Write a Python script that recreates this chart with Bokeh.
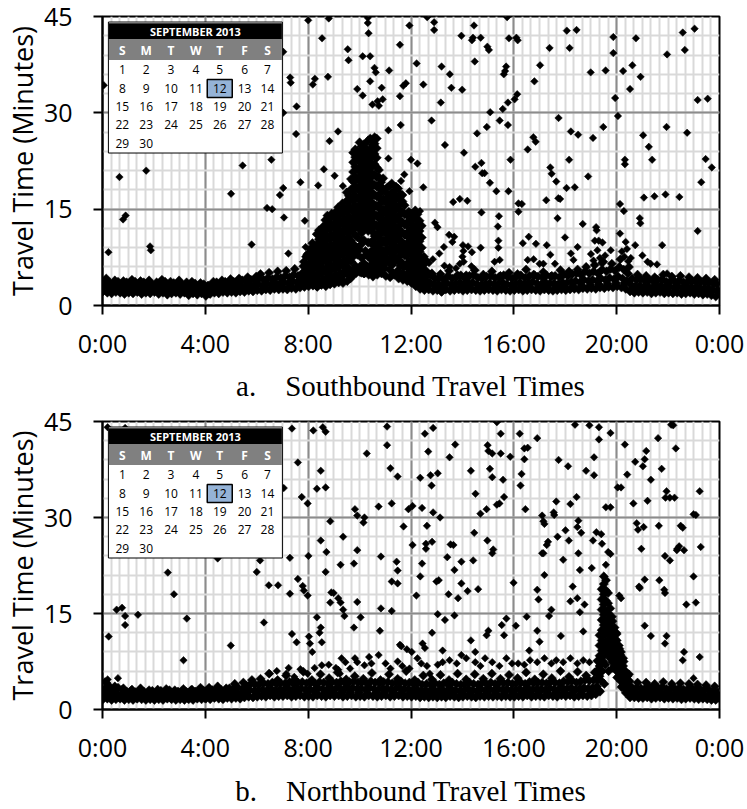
import math
from bokeh.plotting import figure
from bokeh.layouts import column
from bokeh.models import Range1d, FixedTicker
from bokeh.core.properties import value
from bokeh.embed import file_html
from bokeh.resources import INLINE

# ---------------- data ----------------
X_TICKS = [0, 4, 8, 12, 16, 20, 24]
X_LABELS = ["0:00", "4:00", "8:00", "12:00", "16:00", "20:00", "0:00"]
Y_TICKS = [0, 15, 30, 45]
Y_TITLE = "Travel Time (Minutes)"
CAPTIONS = ["a.\u00a0\u00a0\u00a0\u00a0Southbound Travel Times",
            "b.\u00a0\u00a0\u00a0\u00a0Northbound Travel Times"]

CAL_MONTH = "SEPTEMBER 2013"
CAL_WEEKDAYS = ["S", "M", "T", "W", "T", "F", "S"]
CAL_FIRST_WEEKDAY = 0      # 1 Sept 2013 = Sunday
CAL_NDAYS = 30
CAL_SELECTED = 12

# Southbound: 10-minute bins, four readings per bin (low / mid / high / upper fuzz)
sb_lo = [2.2, 2.0, 1.9, 2.1, 2.0, 1.8,  2.0, 1.9, 2.1, 1.8, 2.0, 1.9,
         2.1, 1.8, 2.0, 1.7, 1.9, 2.0,  1.8, 2.0, 1.6, 1.9, 1.7, 1.9,
         1.5, 1.8, 2.0, 1.9, 2.1, 2.0,  2.1, 2.0, 2.2, 2.1, 2.3, 2.2,
         2.4, 2.3, 2.5, 2.4, 2.6, 2.5,  2.6, 2.5, 2.7, 2.6, 2.8, 2.9,
         3.0, 3.1, 2.9, 3.2, 3.0, 3.3,  3.4, 3.6, 3.5, 3.8, 4.5, 5.0,
         5.2, 5.0, 4.8, 4.5, 4.8, 5.0,  4.6, 4.4, 4.8, 4.2, 4.0, 3.8,
         3.5, 3.0, 2.6, 2.4, 2.5, 2.3,  2.4, 2.2, 2.5, 2.3, 2.4, 2.5,
         2.3, 2.4, 2.5, 2.4, 2.3, 2.4,  2.5, 2.4, 2.3, 2.5, 2.4, 2.3,
         2.4, 2.5, 2.3, 2.4, 2.5, 2.4,  2.3, 2.5, 2.4, 2.3, 2.4, 2.5,
         2.4, 2.5, 2.6, 2.5, 2.7, 2.6,  2.7, 2.6, 2.8, 2.7, 2.9, 2.8,
         3.0, 2.8, 2.6, 2.2, 2.0, 2.1,  2.0, 2.1, 1.9, 2.0, 2.1, 1.9,
         2.0, 1.9, 2.0, 1.8, 1.9, 2.0,  1.8, 1.9, 1.7, 1.8, 1.6, 1.4]
sb_mid = [3.0, 2.8, 2.7, 2.9, 2.6, 2.8,  2.7, 2.9, 2.6, 2.8, 2.7, 2.5,
          2.8, 2.6, 2.9, 2.5, 2.7, 2.6,  2.5, 2.8, 2.4, 2.7, 2.3, 2.6,
          2.4, 2.6, 2.8, 2.7, 2.9, 2.8,  2.9, 3.0, 3.1, 2.9, 3.2, 3.0,
          3.3, 3.1, 3.4, 3.3, 3.5, 3.4,  3.6, 3.5, 3.8, 3.6, 4.0, 4.2,
          4.5, 4.8, 5.0, 5.3, 5.0, 5.6,  6.0, 6.5, 6.2, 7.0, 8.0, 9.0,
          9.5, 8.5, 7.5, 7.0, 7.5, 7.8,  7.0, 6.5, 7.2, 6.8, 6.0, 5.8,
          5.5, 4.5, 3.8, 3.4, 3.6, 3.2,  3.4, 3.1, 3.5, 3.2, 3.4, 3.6,
          3.2, 3.5, 3.6, 3.3, 3.2, 3.4,  3.5, 3.3, 3.4, 3.6, 3.3, 3.2,
          3.4, 3.6, 3.3, 3.5, 3.7, 3.4,  3.3, 3.6, 3.4, 3.5, 3.3, 3.6,
          3.5, 3.7, 3.8, 3.6, 4.0, 3.8,  4.0, 3.8, 4.2, 4.0, 4.3, 4.1,
          4.5, 4.2, 3.8, 3.2, 3.0, 3.1,  2.9, 3.0, 2.8, 3.0, 3.1, 2.8,
          2.9, 2.8, 3.0, 2.7, 2.8, 2.9,  2.7, 2.8, 2.6, 2.7, 2.5, 2.3]
sb_hi = [3.8, 3.6, 3.4, 3.7, 3.3, 3.6,  3.5, 3.7, 3.3, 3.6, 3.4, 3.2,
         3.6, 3.3, 3.7, 3.2, 3.5, 3.3,  3.2, 3.6, 3.1, 3.4, 3.0, 3.3,
         3.1, 3.3, 3.6, 3.5, 3.7, 3.5,  3.7, 3.8, 3.9, 3.7, 4.0, 3.8,
         4.2, 4.0, 4.3, 4.1, 4.4, 4.3,  4.6, 4.4, 4.8, 4.6, 5.0, 5.3,
         6.0, 6.5, 7.0, 7.5, 7.0, 8.0,  8.5, 9.0, 9.5, 10.0, 12.0, 13.0,
         14.0, 13.0, 12.0, 11.0, 12.0, 12.0,  11.0, 10.0, 11.0, 10.0, 9.0, 8.5,
         8.0, 6.5, 5.0, 4.5, 4.8, 4.2,  4.4, 4.0, 4.6, 4.2, 4.5, 4.7,
         4.2, 4.6, 4.8, 4.3, 4.2, 4.5,  4.6, 4.3, 4.5, 4.7, 4.4, 4.2,
         4.5, 4.7, 4.3, 4.6, 4.8, 4.5,  4.4, 4.7, 4.5, 4.6, 4.4, 4.8,
         4.6, 4.9, 5.0, 4.8, 5.3, 5.0,  5.3, 5.0, 5.6, 5.3, 5.7, 5.4,
         6.0, 5.6, 5.0, 4.2, 4.0, 4.1,  3.8, 4.0, 3.7, 4.0, 4.1, 3.7,
         3.8, 3.7, 3.9, 3.6, 3.7, 3.8,  3.6, 3.7, 3.5, 3.6, 3.4, 3.2]
sb_top = [4.2, 3.2, 3.9, 2.5, 3.8, 2.4,  4.0, 2.3, 3.8, 2.2, 3.9, 2.5,
          3.0, 4.0, 2.4, 3.7, 2.2, 3.9,  2.9, 2.1, 3.7, 2.0, 3.5, 2.2,
          1.9, 3.7, 2.3, 3.9, 2.5, 4.1,  2.6, 4.2, 2.5, 4.4, 2.7, 4.5,
          4.9, 2.8, 5.1, 3.0, 5.3, 3.0,  5.4, 3.2, 5.7, 3.1, 6.1, 3.4,
          8.5, 3.4, 9.5, 3.6, 10.5, 3.7,  11.5, 4.0, 12.5, 4.2, 14.5, 5.5,
          16.0, 6.0, 15.0, 5.5, 14.0, 5.8,  13.0, 5.0, 12.0, 4.8, 11.0, 4.5,
          9.0, 4.0, 5.5, 3.0, 5.0, 2.8,  4.9, 2.6, 5.4, 2.8, 4.7, 2.9,
          4.7, 2.8, 5.5, 2.7, 4.8, 2.9,  5.3, 2.8, 4.6, 3.0, 5.1, 2.7,
          4.9, 2.9, 5.6, 2.8, 4.7, 2.9,  5.2, 2.8, 4.6, 3.0, 5.5, 2.9,
          5.3, 3.0, 5.6, 3.1, 6.0, 3.2,  6.3, 3.3, 6.8, 3.4, 6.5, 3.5,
          7.2, 3.5, 6.0, 2.6, 4.8, 2.5,  4.6, 2.4, 4.4, 2.5, 4.8, 2.3,
          4.5, 2.3, 4.6, 2.2, 4.4, 2.4,  4.3, 2.2, 4.2, 2.1, 4.0, 1.9]

# Southbound morning peak: 5-minute columns starting 7:50
sb_cloud_start = 7 + 50 / 60
sb_cloud = [
    [3.5, 5.2, 6.8], [4.2, 6.1, 7.6],
    [3.2, 4.9, 6.4, 8.1], [3.8, 5.6, 7.3, 8.8], [3.4, 5.0, 6.7, 8.3, 9.7], [4.3, 5.9, 7.5, 9.1],
    [3.0, 4.6, 6.3, 7.9, 9.5, 11.1], [3.9, 5.5, 7.1, 8.7, 10.3, 11.7],
    [3.3, 5.0, 6.6, 8.2, 9.8, 11.4], [4.1, 5.8, 7.4, 9.0, 10.6, 12.3],
    [3.6, 5.3, 6.9, 8.5, 10.1, 11.7, 13.3], [4.4, 6.0, 7.7, 9.3, 10.9, 12.5, 14.0],
    [3.8, 5.4, 7.1, 8.7, 10.3, 11.9, 13.5], [4.5, 6.2, 7.8, 9.4, 11.0, 12.6, 14.3],
    [4.0, 5.7, 7.3, 8.9, 10.5, 12.1, 13.7], [4.8, 6.5, 8.1, 9.7, 11.3, 12.9, 14.6],
    [4.2, 5.9, 7.5, 9.1, 10.7, 12.3, 13.9, 15.3], [5.0, 6.7, 8.3, 9.9, 11.5, 13.1, 14.7],
    [4.6, 6.3, 7.9, 9.5, 11.1, 12.7, 14.3, 15.9], [5.4, 7.1, 8.7, 10.3, 11.9, 13.5, 15.1],
    [5.0, 6.7, 8.3, 9.9, 11.5, 13.1, 14.7, 16.3, 17.6], [5.8, 7.5, 9.1, 10.7, 12.3, 13.9, 15.5, 17.1],
    [5.2, 6.9, 8.5, 10.1, 11.7, 13.3, 14.9, 16.5, 18.1, 19.7],
    [5.5, 7.6, 9.6, 11.8, 13.3, 14.8, 16.3, 17.8, 19.3, 20.8, 22.3, 23.8],
    [6.2, 8.5, 11.0, 12.6, 14.1, 15.6, 17.1, 18.6, 20.1, 21.6, 23.1, 24.3],
    [5.3, 7.9, 10.6, 12.2, 13.7, 15.2, 16.7, 18.2, 19.7, 21.2, 22.7, 24.1],
    [6.0, 8.7, 11.9, 13.4, 14.9, 16.4, 17.9, 19.4, 20.9, 22.4, 23.9, 25.4],
    [5.1, 7.4, 10.1, 11.3, 12.8, 14.3, 15.8, 17.3, 18.8, 20.3, 21.8, 23.3, 24.8],
    [5.0, 6.6, 10.2, 11.9, 13.4, 14.9, 16.4, 17.9, 19.4, 20.9, 22.4, 23.9, 25.1],
    [5.8, 7.9, 12.5, 14.0, 15.5, 17.0, 18.5, 20.0, 21.5, 23.0, 24.5],
    [5.3, 7.6, 9.8, 11.6, 13.1, 14.6, 16.1, 17.6, 19.1, 20.6, 22.1, 23.6, 25.7],
    [6.2, 8.3, 9.8, 12.3, 13.8, 15.3, 16.8, 18.3, 19.8, 21.3, 22.8, 24.3, 26.0],
    [5.5, 7.0, 8.5, 10.0, 11.5, 13.0, 14.5, 16.0, 17.5, 19.0, 20.5, 22.0, 23.5, 25.0],
    [6.0, 7.6, 9.2, 10.8, 12.4, 14.0, 15.6, 17.2, 18.8, 20.4, 22.0, 23.6, 25.2, 26.2],
    [5.0, 6.5, 8.0, 9.5, 11.0, 12.5, 14.0, 15.5, 17.0, 18.5, 20.0, 21.5, 23.0, 24.5, 26.0],
    [5.6, 7.2, 8.8, 10.4, 12.0, 13.6, 15.2, 16.8, 18.4, 20.0, 21.1],
    [6.4, 8.0, 9.6, 11.2, 12.8, 14.4, 16.0, 17.6, 19.2],
    [7.0, 8.6, 10.2, 11.8, 13.4, 15.0, 16.6, 18.2, 19.8],
    [6.5, 8.1, 9.7, 11.3, 12.9, 14.5, 16.1, 17.7],
    [7.2, 8.8, 10.4, 12.0, 13.6, 15.2, 16.8, 18.4],
    [5.6, 7.2, 8.8, 10.4, 12.0, 13.6, 15.2, 16.8, 18.6],
    [6.3, 7.9, 9.5, 11.1, 12.7, 14.3, 15.9, 17.5, 19.0],
    [6.6, 8.2, 9.8, 11.4, 13.0, 14.6, 16.2, 17.8],
    [7.3, 8.9, 10.5, 12.1, 13.7, 15.3, 16.9, 18.5],
    [5.5, 7.1, 8.7, 10.3, 11.9, 13.5, 15.1, 16.7, 18.2],
    [6.2, 7.8, 9.4, 11.0, 12.6, 14.2, 15.8, 17.4],
    [5.0, 6.6, 8.2, 9.8, 11.4, 13.0, 14.6, 16.2, 17.2],
    [4.6, 6.2, 7.8, 9.4, 11.0, 12.6, 14.2, 15.6],
    [4.5, 6.1, 7.7, 9.3, 10.9, 12.5, 14.1],
    [5.2, 6.8, 8.4, 10.0, 11.6, 13.2, 14.6],
    [5.0, 6.6, 8.2, 9.8, 11.4, 13.0, 14.3],
    [4.2, 5.8, 7.4, 9.0, 10.6, 12.2, 13.8],
    [4.0, 5.6, 7.2, 8.8, 10.4, 12.0, 13.6, 14.8],
    [4.7, 6.3, 7.9, 9.5, 11.1, 12.7, 14.2],
    [3.6, 5.2, 6.8, 8.4, 10.0, 11.6, 13.2],
    [4.2, 5.8, 7.4, 9.0, 10.6, 12.4],
    [3.2, 4.8, 6.4, 7.6],
    [3.8, 5.4, 7.0],
]

# Southbound scattered readings (hour of day, minutes)
sb_scatter = [
    (0.05, 34.3), (0.23, 8.3), (0.66, 20.0), (0.8, 13.4), (0.9, 14.0), (1.7, 21.0), (1.85, 9.2),
    (1.88, 8.6), (5.0, 17.4), (5.45, 21.8), (6.4, 15.2), (6.6, 15.0), (6.57, 22.7), (5.8, 9.5),
    (6.9, 17.2), (7.03, 39.5), (7.3, 35.5), (7.32, 34.7), (7.55, 31.0), (7.03, 30.0), (7.53, 26.7),
    (7.03, 18.3), (7.06, 13.7), (7.23, 8.1), (7.7, 19.2), (7.87, 13.2), (7.9, 9.1), (7.93, 7.9),
    (8.0, 44.4), (8.8, 44.7), (8.54, 41.6), (8.18, 34.4), (8.26, 35.3), (8.77, 35.6), (9.54, 39.9),
    (9.57, 38.2), (10.12, 38.8), (10.41, 38.8), (10.32, 44.8), (10.32, 44.0), (10.35, 42.4),
    (9.91, 33.7), (10.12, 32.7), (10.41, 34.9), (10.58, 37.0), (10.63, 36.3), (10.86, 33.9),
    (11.15, 36.6), (10.5, 31.3), (10.7, 31.8), (10.75, 31.1), (10.9, 32.1), (11.57, 40.6),
    (11.57, 32.6), (11.6, 28.1), (11.7, 34.2), (11.8, 34.6), (11.12, 27.3), (11.94, 43.6),
    (12.22, 37.7), (12.48, 34.4), (12.63, 44.9), (12.9, 44.1), (12.9, 42.9), (12.8, 28.8),
    (13.19, 37.2), (13.51, 36.0), (13.57, 33.9), (13.16, 31.6), (13.32, 25.0), (13.99, 33.6),
    (13.96, 42.0), (14.06, 23.8), (14.37, 41.3), (14.41, 41.7), (14.45, 43.6), (14.71, 41.7),
    (14.48, 38.0), (14.97, 40.3), (15.03, 39.8), (15.08, 30.1), (14.95, 27.8), (14.57, 26.8),
    (14.5, 21.6), (14.74, 22.2), (14.77, 20.6), (14.86, 20.6), (15.07, 19.1), (15.32, 17.8),
    (14.74, 14.5), (15.45, 28.8), (15.57, 30.6), (15.77, 31.6), (15.77, 28.1), (15.61, 36.0),
    (15.66, 36.5), (15.7, 37.2), (15.74, 44.9), (15.81, 41.6), (16.03, 32.1), (16.13, 32.9),
    (16.1, 41.7), (16.15, 41.3), (15.87, 22.7), (15.79, 17.8), (16.18, 15.9), (16.31, 15.8),
    (16.18, 14.6), (15.42, 13.9), (15.38, 12.3), (15.4, 10.1), (15.4, 9.0), (15.45, 7.1),
    (15.25, 6.8), (16.54, 24.3), (16.76, 26.2), (16.85, 25.5), (16.8, 34.9), (17.02, 37.4),
    (17.39, 40.1), (17.42, 21.5), (17.47, 20.5), (17.65, 19.3), (17.74, 29.2), (17.26, 16.4),
    (17.73, 16.7), (17.8, 16.6), (18.05, 18.3), (18.37, 18.4), (18.15, 22.7), (18.22, 27.1),
    (18.5, 26.6), (18.06, 42.8), (18.44, 42.9), (18.17, 40.1), (17.7, 13.6), (17.99, 10.6),
    (18.68, 12.7), (18.89, 20.1), (18.99, 36.3), (19.08, 26.1), (19.48, 27.8), (19.57, 36.6),
    (19.87, 41.8), (19.87, 39.3), (19.94, 32.3), (20.05, 29.5), (20.13, 15.8), (20.28, 14.7),
    (20.25, 36.5), (20.52, 33.7), (20.61, 37.4), (20.75, 41.6), (20.93, 35.6), (20.32, 22.7),
    (20.32, 22.0), (20.9, 13.6), (20.92, 12.8), (21.03, 26.5), (21.25, 24.7), (21.38, 22.7),
    (21.06, 16.8), (21.47, 17.0), (21.9, 17.3), (21.94, 27.8), (21.96, 39.1), (21.77, 9.4),
    (22.44, 16.9), (22.57, 42.5), (22.65, 39.8), (22.74, 26.9), (23.03, 43.1), (23.15, 32.0),
    (23.54, 32.2), (23.15, 11.6), (23.29, 19.2), (23.46, 22.8), (23.7, 21.5),
    (8.39, 18.7), (8.61, 21.2), (9.03, 20.2), (8.83, 25.6), (9.16, 27.1), (9.35, 18.6),
    (11.12, 22.9), (11.61, 19.4), (11.74, 20.4), (12.0, 22.7), (12.25, 22.1), (11.94, 17.8),
    (12.48, 18.4), (12.35, 14.7), (12.93, 12.9), (13.03, 12.2), (13.48, 11.0), (13.68, 10.7),
    (13.61, 9.9), (13.28, 9.1), (13.1, 8.1), (13.9, 16.6), (14.19, 16.3), (13.64, 16.1),
    (14.22, 9.2), (14.37, 8.3), (14.71, 9.0), (14.35, 6.1), (16.35, 9.7), (16.58, 10.7),
    (16.86, 9.6), (17.28, 9.4), (16.54, 7.1), (16.77, 7.2), (17.0, 6.5), (17.15, 6.5),
    (17.42, 7.9), (17.6, 6.5), (18.48, 9.1), (18.22, 8.1), (18.32, 7.1), (19.2, 12.2),
    (19.22, 11.7), (19.15, 10.1), (19.3, 10.1), (19.45, 9.8), (19.77, 8.6), (20.13, 11.2),
    (20.35, 9.9), (20.72, 9.4), (21.0, 7.8), (21.2, 6.8), (21.32, 6.5), (21.57, 6.4),
    (21.96, 5.0), (12.2, 3.0), (13.19, 2.0), (14.02, 9.4), (14.04, 8.5), (14.0, 7.6),
    (14.05, 6.8), (19.0, 8.0), (19.1, 7.0), (19.25, 8.6), (19.35, 7.4), (19.4, 6.6),
    (19.55, 7.8), (20.2, 8.4), (20.3, 7.6), (20.4, 8.8), (20.45, 6.9), (20.55, 7.4),
    (12.7, 6.6), (12.85, 7.2), (13.3, 6.2), (13.5, 6.0), (13.75, 5.8), (13.9, 6.5),
]

# Northbound: 10-minute bins, four readings per bin
nb_lo = [1.6, 1.7, 1.5, 1.6, 1.7, 1.5,  1.6, 1.5, 1.7, 1.6, 1.5, 1.6,
         1.5, 1.6, 1.5, 1.7, 1.6, 1.5,  1.6, 1.5, 1.6, 1.5, 1.7, 1.6,
         1.7, 1.6, 1.8, 1.7, 1.6, 1.8,  1.7, 1.8, 1.7, 1.9, 2.0, 1.9,
         2.0, 2.1, 2.0, 2.2, 2.0, 2.1,  2.1, 2.2, 2.0, 2.1, 2.2, 2.0,
         2.1, 2.0, 2.2, 2.1, 2.0, 2.2,  2.1, 2.2, 2.0, 2.1, 2.2, 2.0,
         2.1, 2.0, 2.2, 2.1, 2.0, 2.1,  2.2, 2.0, 2.1, 2.2, 2.0, 2.1,
         2.0, 2.1, 1.9, 2.0, 1.9, 2.0,  1.9, 2.0, 1.9, 2.1, 2.0, 1.9,
         2.0, 2.1, 2.0, 1.9, 2.1, 2.0,  2.1, 2.0, 2.1, 2.0, 2.1, 2.0,
         2.0, 2.1, 2.0, 2.2, 2.0, 2.1,  2.1, 2.0, 2.2, 2.1, 2.0, 2.2,
         2.1, 2.2, 2.0, 2.1, 2.2, 2.1,  2.2, 2.4, 2.8, 4.0, 6.0, 6.5,
         5.0, 3.5, 2.6, 1.9, 1.9, 1.8,  1.8, 1.9, 1.7, 1.8, 1.9, 1.7,
         1.8, 1.7, 1.8, 1.6, 1.7, 1.8,  1.7, 1.6, 1.7, 1.6, 1.5, 1.5]
nb_mid = [2.4, 2.6, 2.2, 2.5, 2.3, 2.1,  2.2, 2.0, 2.3, 2.1, 2.0, 2.2,
          2.0, 2.2, 2.1, 2.3, 2.0, 2.1,  2.2, 2.0, 2.3, 2.1, 2.4, 2.2,
          2.4, 2.3, 2.5, 2.4, 2.3, 2.6,  2.5, 2.6, 2.4, 2.8, 3.0, 2.9,
          3.0, 3.1, 3.0, 3.2, 3.0, 3.1,  3.1, 3.3, 3.0, 3.2, 3.3, 3.1,
          3.2, 3.0, 3.3, 3.2, 3.1, 3.3,  3.2, 3.4, 3.1, 3.3, 3.4, 3.2,
          3.3, 3.1, 3.4, 3.2, 3.1, 3.3,  3.3, 3.1, 3.2, 3.4, 3.1, 3.2,
          3.0, 3.2, 2.9, 3.0, 2.9, 3.1,  2.9, 3.1, 2.9, 3.2, 3.0, 2.9,
          3.0, 3.2, 3.0, 2.9, 3.2, 3.0,  3.2, 3.0, 3.2, 3.1, 3.2, 3.0,
          3.1, 3.2, 3.0, 3.3, 3.1, 3.2,  3.2, 3.1, 3.3, 3.2, 3.1, 3.4,
          3.2, 3.4, 3.1, 3.3, 3.4, 3.3,  3.4, 3.6, 4.5, 7.0, 9.0, 8.5,
          7.5, 5.5, 3.6, 2.6, 2.6, 2.5,  2.5, 2.7, 2.4, 2.6, 2.7, 2.4,
          2.5, 2.4, 2.6, 2.3, 2.4, 2.5,  2.4, 2.3, 2.4, 2.2, 2.1, 2.0]
nb_hi = [3.3, 3.6, 3.0, 3.4, 3.1, 2.8,  2.9, 2.7, 3.0, 2.8, 2.7, 2.9,
         2.7, 2.9, 2.8, 3.0, 2.7, 2.8,  2.9, 2.7, 3.0, 2.8, 3.1, 2.9,
         3.1, 3.0, 3.2, 3.1, 3.0, 3.3,  3.3, 3.4, 3.2, 3.7, 4.0, 3.9,
         4.0, 4.1, 4.0, 4.2, 4.0, 4.1,  4.1, 4.3, 4.0, 4.2, 4.3, 4.1,
         4.2, 4.0, 4.3, 4.2, 4.1, 4.3,  4.2, 4.4, 4.1, 4.3, 4.4, 4.2,
         4.3, 4.1, 4.4, 4.2, 4.1, 4.3,  4.3, 4.1, 4.2, 4.4, 4.1, 4.2,
         4.0, 4.2, 3.9, 4.0, 3.9, 4.1,  3.9, 4.1, 3.9, 4.2, 4.0, 3.9,
         4.0, 4.2, 4.0, 3.9, 4.2, 4.0,  4.2, 4.0, 4.2, 4.1, 4.2, 4.0,
         4.1, 4.2, 4.0, 4.3, 4.1, 4.2,  4.2, 4.1, 4.3, 4.2, 4.1, 4.4,
         4.3, 4.5, 4.2, 4.4, 4.6, 4.5,  4.6, 4.8, 6.0, 10.0, 12.0, 11.0,
         9.5, 7.5, 4.6, 3.4, 3.4, 3.3,  3.3, 3.5, 3.2, 3.4, 3.5, 3.2,
         3.3, 3.2, 3.4, 3.1, 3.2, 3.3,  3.2, 3.1, 3.2, 3.0, 2.9, 2.7]
nb_top = [4.2, 2.0, 3.6, 1.9, 3.3, 2.0,  3.1, 1.8, 3.3, 1.9, 3.0, 1.8,
          3.1, 1.9, 3.2, 1.8, 3.0, 1.9,  3.2, 1.8, 3.1, 1.9, 3.4, 1.8,
          3.4, 2.0, 3.6, 2.0, 3.3, 2.1,  4.0, 2.1, 4.2, 2.2, 4.6, 2.3,
          4.8, 2.5, 5.6, 2.6, 4.6, 2.5,  5.3, 2.6, 4.7, 2.5, 5.9, 2.6,
          4.6, 2.6, 5.5, 2.5, 4.9, 2.7,  5.8, 2.6, 4.7, 2.7, 5.2, 2.6,
          4.8, 2.5, 5.7, 2.6, 4.6, 2.7,  5.5, 2.6, 4.8, 2.5, 6.0, 2.6,
          4.6, 2.4, 5.3, 2.5, 4.7, 2.4,  5.4, 2.5, 4.6, 2.4, 5.6, 2.5,
          4.7, 2.4, 5.5, 2.5, 4.8, 2.6,  5.6, 2.5, 4.8, 2.6, 5.4, 2.5,
          4.9, 2.6, 5.8, 2.5, 4.7, 2.6,  5.5, 2.6, 4.9, 2.7, 6.0, 2.6,
          5.1, 2.7, 5.9, 2.8, 5.3, 2.9,  5.8, 3.0, 7.5, 12.5, 14.5, 12.0,
          8.5, 6.0, 5.5, 2.2, 4.2, 2.2,  4.2, 2.1, 4.0, 2.2, 4.3, 2.0,
          4.0, 2.1, 4.1, 2.0, 4.0, 2.1,  3.9, 2.0, 3.8, 1.9, 3.6, 1.8]

# Northbound evening peak: 5-minute columns starting 19:15
nb_cloud_start = 19 + 15 / 60
nb_cloud = [
    [4.6, 6.1, 7.6],
    [5.2, 6.8, 8.4, 10.0, 11.6],
    [6.0, 7.6, 9.2, 10.8, 12.4, 14.0, 15.6, 17.2, 18.8],
    [8.4, 10.0, 11.6, 13.2, 14.8, 16.4, 18.0, 19.6, 20.8],
    [9.0, 10.6, 12.2, 13.8, 15.4, 17.0, 18.6, 20.2],
    [8.6, 10.2, 11.8, 13.4, 15.0, 16.6, 18.2],
    [8.0, 9.6, 11.2, 12.8, 14.4, 15.8],
    [7.4, 9.0, 10.6, 12.2, 13.8],
    [6.8, 8.4, 10.0, 11.6, 12.8],
    [6.0, 7.6, 9.2, 10.8, 11.8],
    [5.2, 6.8, 8.4, 10.0],
    [4.4, 6.0, 7.6, 9.0],
    [3.8, 5.3, 6.8, 8.0],
    [3.2, 4.6, 6.0],
    [2.8, 4.0, 5.2],
    [2.5, 3.6, 4.4],
]

nb_scatter = [
    (0.2, 44.1), (0.88, 44.0), (0.24, 11.4), (0.55, 15.6), (0.76, 15.9), (0.88, 14.6), (0.88, 13.2),
    (1.38, 14.8), (2.54, 21.4), (2.78, 18.0), (3.15, 7.7), (3.28, 14.2), (4.99, 10.0), (4.48, 23.6),
    (6.0, 21.5), (6.13, 23.3), (6.28, 13.6), (6.47, 19.4), (6.83, 19.4), (7.05, 34.6), (7.29, 23.7),
    (7.37, 43.9), (7.37, 11.8), (7.55, 10.5), (7.29, 18.1), (7.6, 38.6), (7.75, 33.2), (7.6, 20.4),
    (7.79, 19.3), (7.83, 18.6), (7.98, 32.2), (8.01, 24.0), (7.98, 17.8), (8.03, 11.4), (8.07, 10.3),
    (8.2, 43.6), (8.16, 9.0), (8.34, 14.4), (8.44, 12.0), (8.49, 12.8), (8.34, 34.5), (8.49, 37.3),
    (8.57, 44.1), (8.68, 43.4), (8.49, 26.4), (8.68, 34.7), (8.71, 24.6), (8.68, 21.5), (8.86, 29.4),
    (8.9, 18.3), (8.99, 18.2), (8.53, 10.5), (8.86, 16.7), (9.17, 17.4), (9.26, 16.7), (9.36, 15.6),
    (9.41, 14.6), (9.26, 22.6), (9.36, 27.0), (9.23, 5.6), (9.78, 12.8), (9.78, 22.8), (9.82, 31.3),
    (9.91, 24.9), (9.91, 16.8), (9.91, 30.3), (10.19, 30.0), (10.04, 14.4), (10.15, 29.2),
    (10.28, 40.0), (10.37, 8.2), (10.74, 31.7), (10.79, 12.3), (10.83, 23.9), (10.83, 15.8),
    (11.07, 44.2), (11.07, 41.3), (11.2, 37.7), (11.25, 32.2), (11.25, 20.0), (11.25, 15.4),
    (11.44, 23.1), (11.48, 21.7), (11.48, 36.4), (11.48, 19.7), (11.57, 10.1), (11.62, 9.9),
    (11.84, 9.4), (11.71, 28.6), (11.9, 31.3), (12.03, 9.0), (12.06, 31.8), (12.06, 25.7),
    (12.21, 17.8), (12.36, 36.2), (12.36, 20.8), (12.43, 31.5), (12.43, 22.8), (12.45, 10.3),
    (12.54, 9.6), (12.54, 43.1), (12.58, 25.9), (12.58, 25.1), (12.62, 28.7), (12.67, 40.3),
    (12.76, 36.6), (12.8, 35.0), (12.82, 26.2), (12.86, 44.0), (12.82, 12.0), (12.86, 30.8),
    (12.99, 20.0), (13.08, 20.2), (13.04, 36.9), (13.04, 14.9), (13.04, 7.0), (13.13, 30.0),
    (13.23, 9.2), (13.32, 14.0), (13.41, 23.8), (13.46, 18.0), (13.5, 39.4), (13.54, 25.8),
    (13.65, 25.7), (13.69, 21.8), (13.72, 41.4), (13.69, 14.7), (13.83, 17.4), (13.96, 19.7),
    (13.96, 23.1), (14.2, 18.5), (14.33, 10.8), (14.33, 37.3), (14.42, 23.3), (14.46, 27.6),
    (14.51, 33.7), (14.5, 9.0), (14.5, 7.4), (14.61, 18.8), (14.7, 30.6), (14.94, 31.3),
    (14.97, 26.4), (14.98, 41.3), (15.01, 40.4), (15.16, 40.0), (15.07, 37.6), (15.16, 36.3),
    (15.16, 24.4), (15.2, 25.0), (15.01, 12.3), (14.94, 11.6), (15.34, 32.0), (15.44, 32.2),
    (15.34, 44.9), (15.49, 43.1), (15.49, 40.0), (15.58, 35.9), (15.62, 33.2), (15.53, 13.2),
    (15.62, 11.6), (15.71, 14.2), (15.86, 39.5), (15.99, 19.8), (16.08, 13.1), (16.23, 43.1),
    (16.26, 35.0), (16.3, 36.8), (16.41, 40.8), (16.54, 40.9), (16.41, 39.1), (16.45, 31.3),
    (16.5, 14.5), (16.6, 9.2), (16.91, 42.4), (16.91, 18.7), (16.96, 17.2), (16.91, 12.3),
    (17.0, 10.6), (17.1, 30.3), (17.15, 29.4), (17.19, 29.0), (17.1, 24.4), (17.15, 24.4),
    (17.19, 21.0), (17.28, 25.7), (17.33, 26.2), (17.37, 14.6), (17.46, 15.6), (17.55, 30.8),
    (17.57, 30.4), (17.65, 32.5), (17.7, 27.0), (17.74, 39.0), (17.83, 11.5), (17.92, 23.4),
    (18.01, 28.0), (18.11, 38.0), (18.14, 26.4), (18.2, 32.1), (18.2, 16.9), (18.29, 19.2),
    (18.38, 44.5), (18.44, 33.2), (18.47, 28.5), (18.51, 29.5), (18.51, 24.4), (18.47, 17.4),
    (18.57, 15.2), (18.57, 21.8), (18.62, 27.6), (18.7, 12.2), (18.75, 16.4), (18.81, 37.3),
    (18.94, 44.4), (19.03, 22.1), (19.08, 26.4), (19.12, 36.6), (19.12, 39.4), (19.21, 27.7),
    (19.4, 27.4), (19.31, 44.1), (19.31, 42.2), (19.43, 25.9), (19.58, 22.6), (19.67, 24.6),
    (19.76, 24.3), (19.58, 31.6), (19.76, 31.6), (19.76, 43.2), (20.04, 34.7), (20.17, 34.7),
    (20.32, 41.4), (20.41, 36.7), (20.1, 17.8), (20.17, 17.4), (20.65, 32.2), (20.78, 29.1),
    (20.83, 28.1), (20.72, 38.7), (20.96, 25.1), (21.02, 38.0), (21.05, 28.5), (21.09, 39.1),
    (21.15, 40.4), (21.2, 32.6), (21.33, 35.9), (20.87, 19.2), (20.9, 19.0), (21.09, 20.3),
    (21.09, 13.1), (21.33, 11.5), (21.61, 42.4), (21.64, 28.7), (21.66, 20.2), (21.75, 37.6),
    (21.88, 24.0), (21.94, 34.1), (21.85, 18.7), (21.88, 18.2), (21.9, 33.1), (22.07, 33.1),
    (22.25, 33.1), (22.07, 23.3), (22.3, 40.8), (22.34, 24.9), (22.36, 25.1), (22.43, 25.5),
    (22.12, 44.5), (22.2, 44.4), (21.94, 11.5), (21.88, 10.3), (22.49, 28.7), (22.57, 28.4),
    (22.62, 24.9), (22.62, 9.0), (22.57, 7.7), (22.71, 16.4), (22.99, 30.5), (23.08, 30.4),
    (22.99, 20.8), (23.08, 16.7), (23.23, 34.1), (23.27, 25.4), (23.23, 8.2), (22.99, 4.9),
    (6.5, 5.6), (6.78, 6.0), (7.15, 5.6), (7.24, 6.5), (7.46, 5.1), (7.7, 6.3), (7.98, 5.6),
    (8.25, 6.5), (8.53, 6.9), (8.8, 7.0), (9.08, 6.5), (9.3, 8.0), (9.45, 7.4), (9.17, 6.2),
    (9.63, 6.4), (9.82, 8.0), (9.91, 7.4), (10.19, 6.9), (10.46, 7.2), (10.74, 8.5),
    (11.01, 7.2), (11.2, 6.4), (11.48, 7.5), (11.66, 6.8), (11.94, 6.4), (12.25, 8.0),
    (12.4, 7.2), (12.62, 6.8), (12.73, 5.6), (13.23, 7.4), (13.5, 7.7), (13.78, 7.2),
    (13.96, 8.5), (14.15, 8.0), (14.7, 6.8), (14.88, 8.0), (15.16, 7.4), (15.44, 6.8),
    (15.71, 8.0), (15.93, 7.2), (16.17, 7.2), (16.41, 7.0), (16.63, 7.7), (16.91, 7.4),
    (17.19, 8.0), (17.46, 7.2), (17.65, 7.7), (17.92, 7.4), (18.2, 8.0), (18.47, 7.2),
    (18.7, 7.7), (18.94, 7.4), (0.1, 4.4), (0.2, 4.7), (0.6, 4.9),
]

# ---------------- drawing ----------------
FRAME_W = 621
COL_PX = [20, 44, 69, 94, 118, 143, 166]       # calendar column centres (px from frame left)
ROW_PX = [54, 73, 91, 110, 129]                # calendar day-row centres (px from frame top)
FONT = "Open Sans"


def make_panel(caption, band, cloud_start, cloud, scatter, top, frame_h, cap_standoff):
    p = figure(frame_width=FRAME_W, frame_height=frame_h, output_backend="svg",
               toolbar_location=None, x_range=Range1d(0, 24), y_range=Range1d(0, 45),
               min_border_left=98, min_border_right=28, min_border_top=top,
               min_border_bottom=0, background_fill_color="white",
               border_fill_color="white")
    p.outline_line_color = "black"
    p.outline_line_width = 2

    # grids
    p.xgrid.ticker = FixedTicker(ticks=X_TICKS, minor_ticks=[i / 3 for i in range(73)])
    p.ygrid.ticker = FixedTicker(ticks=Y_TICKS, minor_ticks=list(range(0, 46, 3)))
    for g in (p.xgrid, p.ygrid):
        g.grid_line_color = "#8c8c8c"
        g.grid_line_width = 2
        g.minor_grid_line_color = "#d9d9d9"
        g.minor_grid_line_width = 2

    # axes
    p.xaxis.ticker = FixedTicker(ticks=X_TICKS)
    p.xaxis.major_label_overrides = {t: l for t, l in zip(X_TICKS, X_LABELS)}
    p.yaxis.ticker = FixedTicker(ticks=Y_TICKS)
    for ax in (p.xaxis, p.yaxis):
        ax.axis_line_color = "black"
        ax.axis_line_width = 2
        ax.major_tick_line_color = "black"
        ax.major_tick_line_width = 2
        ax.major_tick_in = 0
        ax.major_tick_out = 9
        ax.minor_tick_line_color = None
        ax.major_label_text_font = FONT
        ax.major_label_text_font_size = "25px"
        ax.major_label_text_color = "black"
        ax.axis_label_text_font_style = "normal"
        ax.axis_label_text_color = "black"
    p.xaxis.major_label_standoff = 11
    p.yaxis.major_label_standoff = 21
    p.yaxis.axis_label = Y_TITLE
    p.yaxis.axis_label_text_font = FONT
    p.yaxis.axis_label_text_font_size = "27px"
    p.yaxis.axis_label_standoff = 0
    p.xaxis.axis_label = caption
    p.xaxis.axis_label_text_font = "Liberation Serif"
    p.xaxis.axis_label_text_font_size = "29px"
    p.xaxis.axis_label_standoff = cap_standoff

    # points
    xs, ys = [], []
    n = len(band)
    for k, arr in enumerate(band):
        for i, v in enumerate(arr):
            xs.append((i + (k + 0.5) / n) / 6.0)
            ys.append(v)
    for j, col in enumerate(cloud):
        for v in col:
            xs.append(cloud_start + j * 5 / 60)
            ys.append(v)
    p.scatter(xs, ys, marker="square", angle=math.pi / 4, size=6.5, color="black",
              line_width=0.5)
    p.scatter([t for t, v in scatter], [v for t, v in scatter], marker="square",
              angle=math.pi / 4, size=5.3, color="black", line_width=0.5)

    # calendar inset
    def fx(px):
        return px / FRAME_W * 24

    def fy(py):
        return 45 - py / frame_h * 45

    p.rect(x=fx(93.5), y=fy(72), width=174, height=131, width_units="screen",
           height_units="screen", fill_color="white", line_color="black", line_width=1)
    p.rect(x=fx(93.5), y=fy(15), width=173, height=16, width_units="screen",
           height_units="screen", fill_color="black", line_color=None)
    p.rect(x=fx(93.5), y=fy(33.5), width=173, height=21, width_units="screen",
           height_units="screen", fill_color="#808080", line_color=None)
    idx = CAL_SELECTED - 1 + CAL_FIRST_WEEKDAY
    p.rect(x=fx(COL_PX[idx % 7]), y=fy(ROW_PX[idx // 7]), width=25, height=18,
           width_units="screen", height_units="screen", fill_color="#95b3d7",
           line_color="black", line_width=1.5)
    p.text(x=[fx(93.5)], y=[fy(15.5)], text=[CAL_MONTH], text_color="white",
           text_font=value(FONT), text_font_style="bold", text_font_size="11px",
           text_align="center", text_baseline="middle")
    p.text(x=[fx(c) for c in COL_PX], y=[fy(34)] * 7, text=CAL_WEEKDAYS, text_color="white",
           text_font=value(FONT), text_font_style="bold", text_font_size="12px",
           text_align="center", text_baseline="middle")
    dx, dy, dt = [], [], []
    for d in range(1, CAL_NDAYS + 1):
        k = d - 1 + CAL_FIRST_WEEKDAY
        dx.append(fx(COL_PX[k % 7]))
        dy.append(fy(ROW_PX[k // 7]))
        dt.append(str(d))
    p.text(x=dx, y=dy, text=dt, text_color="black", text_font=value(FONT),
           text_font_size="12px", text_align="center", text_baseline="middle")
    return p


p1 = make_panel(CAPTIONS[0], [sb_lo, sb_mid, sb_hi, sb_top], sb_cloud_start, sb_cloud,
                sb_scatter, 16, 293, 7)
p2 = make_panel(CAPTIONS[1], [nb_lo, nb_mid, nb_hi, nb_top], nb_cloud_start, nb_cloud,
                nb_scatter, 16, 292, 8)

layout = column(p1, p2, spacing=0, width=747, height=809, styles={"overflow": "hidden"})
open("out.html", "w").write(file_html(layout, INLINE))
